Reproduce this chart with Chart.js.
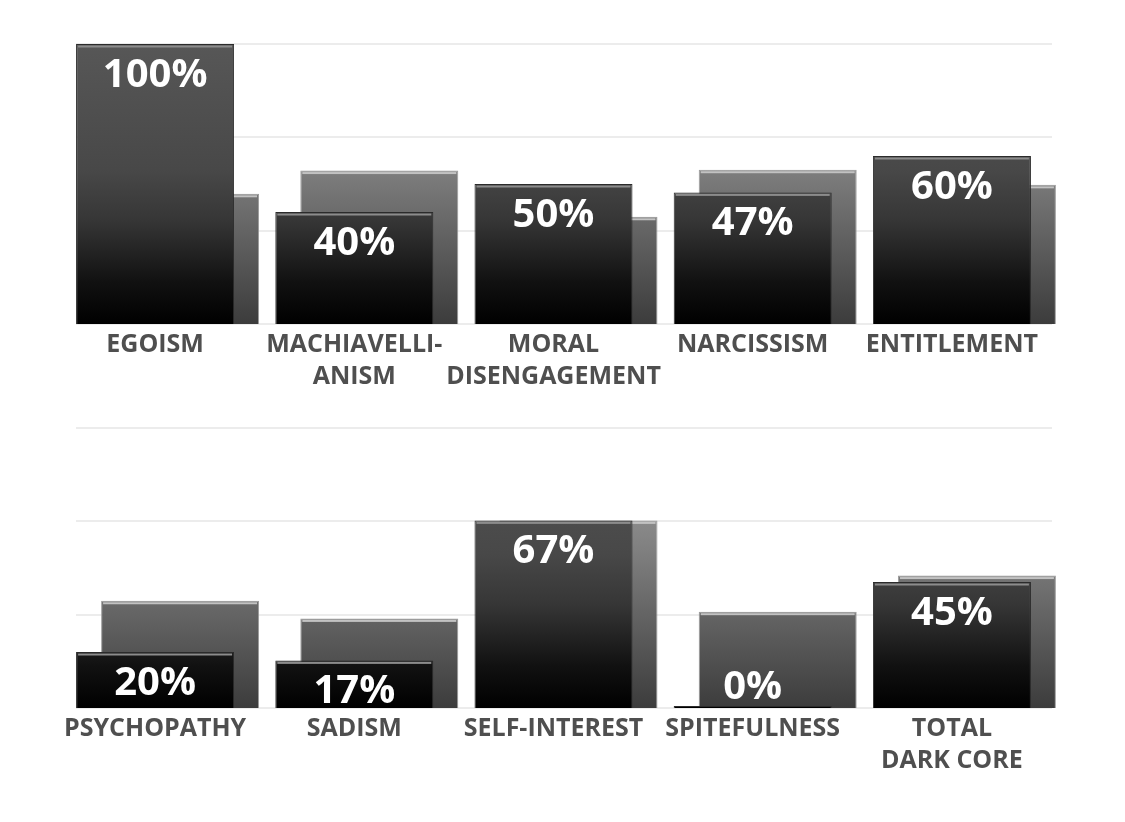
<!DOCTYPE html>
<html>
<head>
<meta charset="utf-8">
<script src="https://cdn.jsdelivr.net/npm/chart.js@4/dist/chart.umd.min.js"></script>
<style>
body{margin:0;background:#fff;width:1125px;height:822px;overflow:hidden}
.box{position:absolute;left:0;width:1125px}
</style>
</head>
<body>
<div class="box" style="top:0;height:401px"><canvas id="TopChart"></canvas></div>
<div class="box" style="top:400px;height:385px"><canvas id="BottomChart"></canvas></div>
<script>
var Top_Labels = ["EGOISM", ["MACHIAVELLI-", "ANISM"], ["MORAL", "DISENGAGEMENT"], "NARCISSISM", "ENTITLEMENT"]
var Top_Front = [100, 40, 50, 47, 60]
var Top_Back = [46.5, 54.8, 38.3, 55.1, 49.7]
var Bottom_Labels = ["PSYCHOPATHY", "SADISM", "SELF-INTEREST", "SPITEFULNESS", ["TOTAL", "DARK CORE"]]
var Bottom_Front = [20, 17, 67, 0, 45]
var Bottom_Back = [38.3, 32, 67, 34.4, 47.3]
var Grid_Values = [0, 100/3, 200/3, 100]

// gradients run over the whole plot height, so short bars stay darker
var Front_Stops = [[0, "#000000"], [0.15, "#111111"], [0.37, "#363636"], [0.55, "#484848"], [1, "#575757"]]
var Back_Stops = [[0, "#3c3c3c"], [0.35, "#666666"], [0.55, "#7e7e7e"], [0.67, "#8a8a8a"], [1, "#9c9c9c"]]

function Make_Gradient(chart, stops){
  var area = chart.chartArea
  if (!area) return stops[0][1]
  var g = chart.ctx.createLinearGradient(0, area.bottom, 0, area.top)
  for (var i = 0; i < stops.length; i++){
    g.addColorStop(stops[i][0], stops[i][1])
  }
  return g
}

var Bar_Extras = {
  id: "bar_extras",
  beforeDatasetsDraw: function(chart){
    var ctx = chart.ctx, y = chart.scales.y, area = chart.chartArea
    ctx.save()
    ctx.fillStyle = "#ececec"
    for (var i = 0; i < Grid_Values.length; i++){
      var py = Math.round(y.getPixelForValue(Grid_Values[i]))
      ctx.fillRect(area.left + 8, py - 1, area.right - area.left - 20, 2)
    }
    ctx.restore()
  },
  afterDatasetDraw: function(chart, args){
    // thin light line along the top edge of every bar
    var ctx = chart.ctx
    var bars = args.meta.data
    ctx.save()
    ctx.fillStyle = args.index == 0 ? "#8c8c8c" : "#c2c2c2"
    for (var i = 0; i < bars.length; i++){
      var b = bars[i]
      if (b.base - b.y < 4) continue
      ctx.fillRect(b.x - b.width / 2 + 2, b.y + 1.5, b.width - 4, 2)
    }
    ctx.restore()
  },
  afterDatasetsDraw: function(chart){
    var ctx = chart.ctx
    var bars = chart.getDatasetMeta(0).data
    var values = chart.data.datasets[0].data
    ctx.save()
    ctx.fillStyle = "#ffffff"
    ctx.font = "bold 40px 'Open Sans'"
    ctx.textAlign = "center"
    ctx.textBaseline = "alphabetic"
    for (var i = 0; i < bars.length; i++){
      var b = bars[i]
      var ty = (b.base - b.y) < 30 ? b.base - 9 : b.y + 43
      ctx.fillText(values[i] + "%", b.x, ty)
    }
    ctx.restore()
  }
}

function Build_Chart(id, labels, front, back, topPad){
  return new Chart(document.getElementById(id), {
    type: "bar",
    data: {
      labels: labels,
      datasets: [
        {
          data: front,
          backgroundColor: function(c){ return Make_Gradient(c.chart, Front_Stops) },
          borderColor: "#2b2b2b",
          borderWidth: 1,
          minBarLength: 2,
          categoryPercentage: 0.251,
          barPercentage: 6.32
        },
        {
          data: back,
          backgroundColor: function(c){ return Make_Gradient(c.chart, Back_Stops) },
          borderColor: "#9a9a9a",
          borderWidth: 1,
          categoryPercentage: 0.251,
          barPercentage: 6.32
        }
      ]
    },
    options: {
      responsive: true,
      maintainAspectRatio: false,
      animation: false,
      layout: {padding: {top: topPad, left: 68, right: 61, bottom: 0}},
      plugins: {
        legend: {display: false},
        tooltip: {enabled: false}
      },
      scales: {
        x: {
          grid: {display: false, drawTicks: false},
          border: {display: false},
          ticks: {
            labelOffset: -12.5,
            padding: 5,
            color: "#4f4f4f",
            maxRotation: 0,
            autoSkip: false,
            font: {family: "'Open Sans'", size: 25, weight: "bold", lineHeight: 1.28}
          },
          afterFit: function(scale){ scale.height = 77 }
        },
        y: {display: false, min: 0, max: 100}
      }
    },
    plugins: [Bar_Extras]
  })
}

var Top_Chart = Build_Chart("TopChart", Top_Labels, Top_Front, Top_Back, 44)
var Bottom_Chart = Build_Chart("BottomChart", Bottom_Labels, Bottom_Front, Bottom_Back, 28)
</script>
</body>
</html>
